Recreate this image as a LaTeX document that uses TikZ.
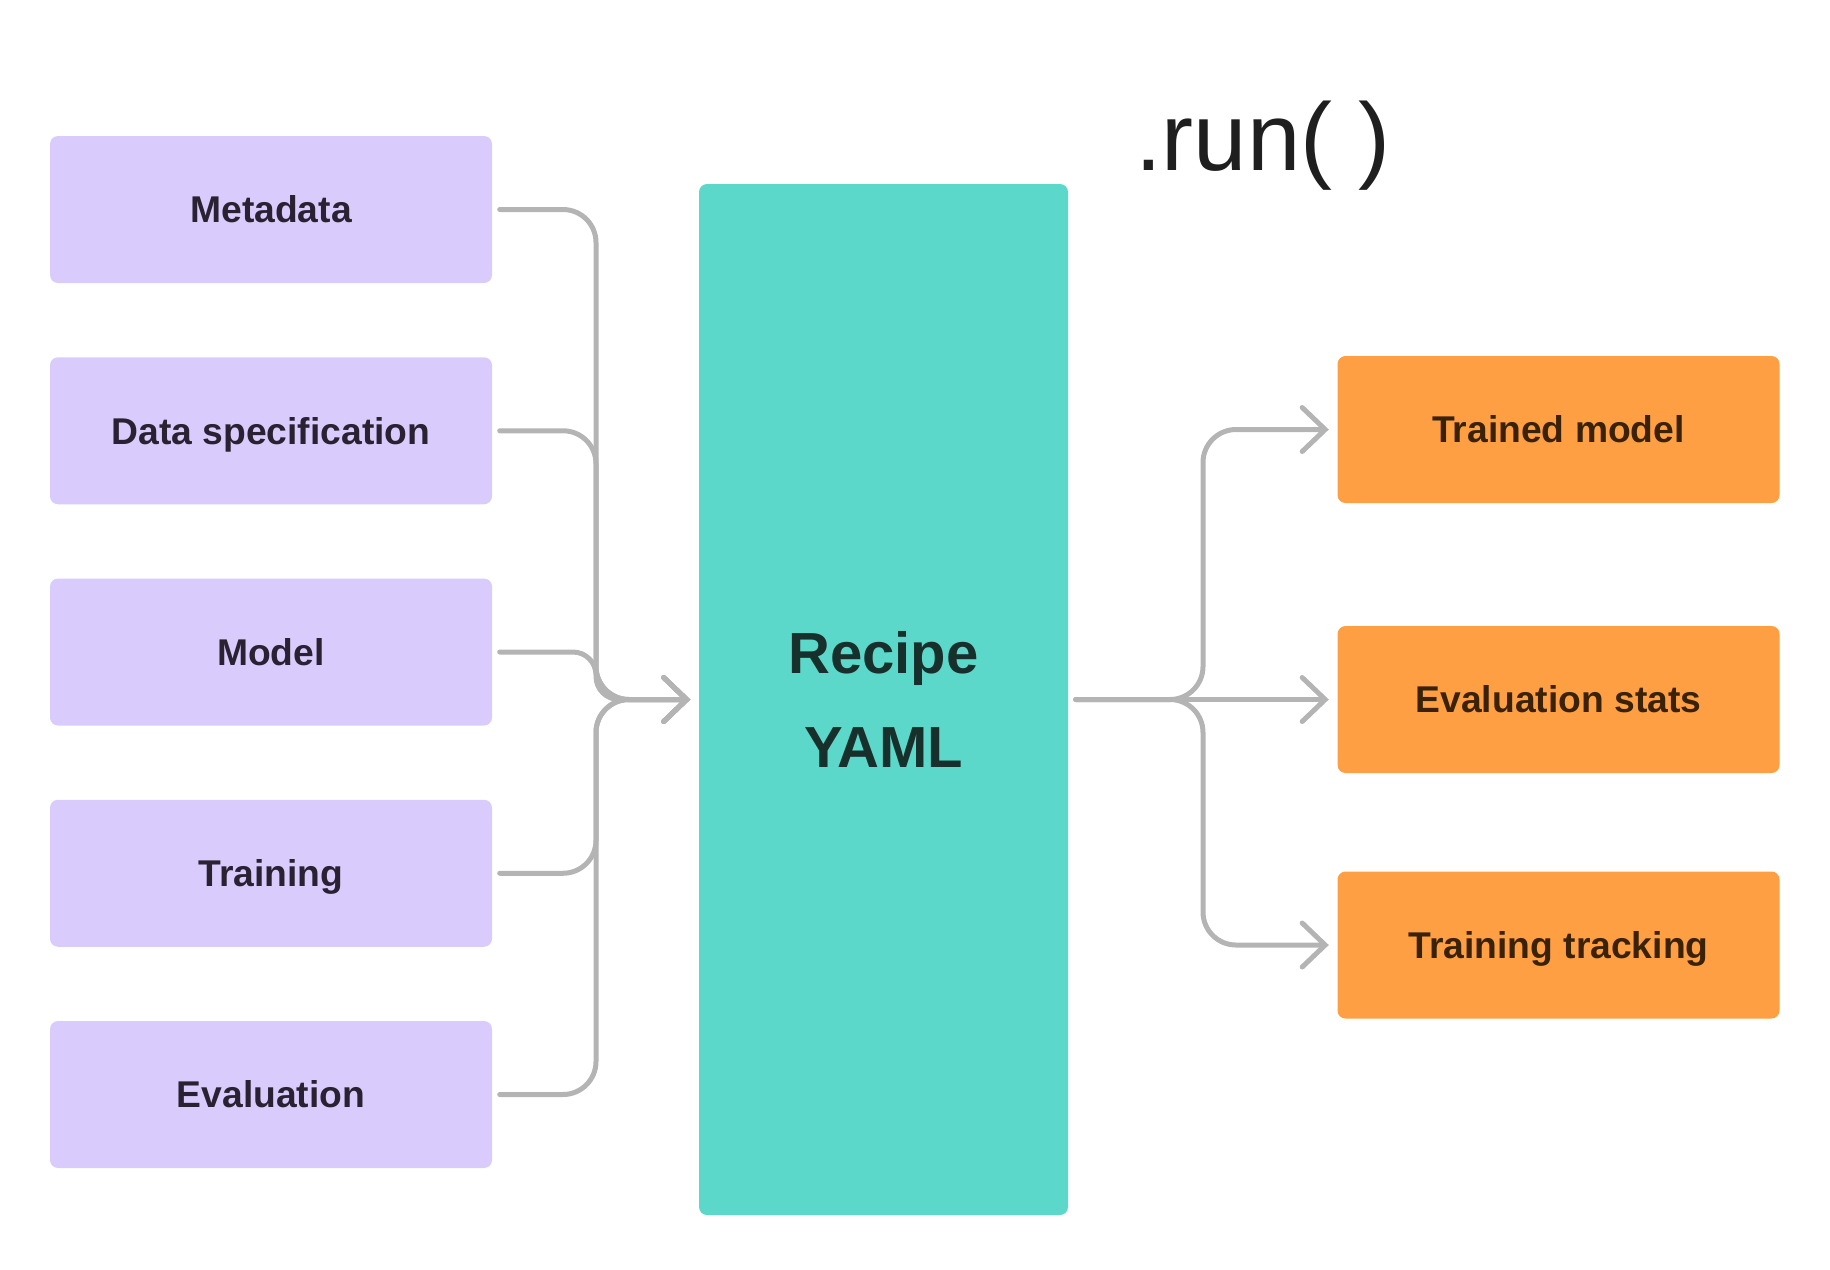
\documentclass[tikz,border=0pt]{standalone}
\usepackage{fontspec}
\setmainfont{Liberation Sans}
\usepackage{xcolor}
\usepackage{tikz}
\usetikzlibrary{positioning}
\usetikzlibrary{arrows.meta}
\definecolor{lav}{HTML}{D9CCFC}
\definecolor{aqua}{HTML}{5CD8CB}
\definecolor{amber}{HTML}{FE9F43}
\definecolor{wire}{HTML}{B4B4B4}
\definecolor{inktext}{HTML}{2A2233}
\definecolor{outtext}{HTML}{3A2209}
\definecolor{yamltext}{HTML}{17302C}
\tikzset{%
  inblock/.style   = {fill=lav, rectangle, rounded corners=0.08cm, inner sep=0pt,
    minimum width=4.42cm, minimum height=1.47cm, text=inktext,
    font=\bfseries\fontsize{10.6}{12}\selectfont, text height=7.6pt, text depth=0pt},
  outblock/.style  = {inblock, fill=amber, text=outtext}, % Results
  yamlblock/.style = {fill=aqua, rectangle, rounded corners=0.08cm, inner sep=0pt,
    minimum width=3.69cm, minimum height=10.31cm, text=yamltext, align=center,
    font=\bfseries\fontsize{16.5}{26.5}\selectfont},
  junction/.style  = {coordinate}, % Branch point
  link/.style      = {draw=wire, line width=0.05cm, line cap=round, rounded corners=0.33cm,
    shorten <=0.07cm, shorten >=0.08cm}
}

\begin{document}
\begin{tikzpicture}[auto, >={Straight Barb[length=0.23cm, width=0.44cm, line cap=round]}]

  \useasboundingbox (0,0) rectangle (18.30,-12.69);

  \draw node at (2.71,-2.095) [inblock] (meta) {Metadata};
  \draw node [inblock, below of=meta, node distance = 2.2125cm] (dataspec) {Data specification};
  \draw node [inblock, below of=dataspec, node distance = 2.2125cm] (model) {Model};
  \draw node [inblock, below of=model, node distance = 2.2125cm] (training) {Training};
  \draw node [inblock, below of=training, node distance = 2.2125cm] (evaluation) {Evaluation};

  \draw node at (8.835,-6.995) [yamlblock] (recipe) {Recipe\\YAML};

  \draw node [outblock, right of=recipe, node distance = 6.75cm] (evalstats) {Evaluation stats};
  \draw node [outblock, above of=evalstats, node distance = 2.70cm] (trained) {Trained model};
  \draw node [outblock, below of=evalstats, node distance = 2.455cm] (tracking) {Training tracking};

  \draw node at (12.63,-1.70) [anchor=base, text=black!88, font=\fontsize{27.3}{30}\selectfont] (run) {.run( )};

  \draw node at (5.96,-6.995) [junction] (ljoin) {};
  \draw node at (12.03,-6.995) [junction] (rjoin) {};

  % inputs into the recipe
  \draw[link, ->] (meta) -| (ljoin) -- (recipe);
  \draw[link, ->] (dataspec) -| (ljoin) -- (recipe);
  \draw[link, ->, rounded corners=0.23cm] (model) -| (ljoin) -- (recipe);
  \draw[link, ->] (training) -| (ljoin) -- (recipe);
  \draw[link, ->] (evaluation) -| (ljoin) -- (recipe);

  % outputs of the run
  \draw[link, ->] (recipe) -- (rjoin) |- (trained);
  \draw[link, ->] (recipe) -- (evalstats);
  \draw[link, ->] (recipe) -- (rjoin) |- (tracking);

  \end{tikzpicture}
\end{document}
